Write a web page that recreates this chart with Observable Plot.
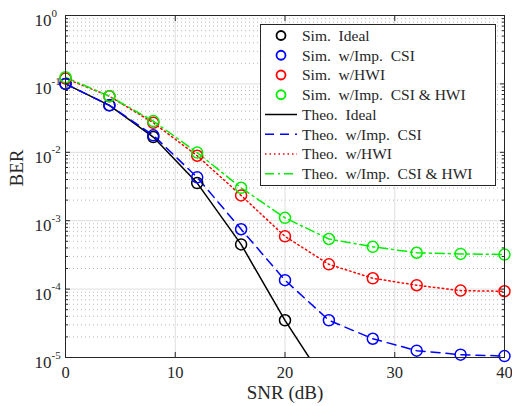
<!DOCTYPE html>
<html><head><meta charset="utf-8">
<script src="https://cdn.jsdelivr.net/npm/d3@7"></script>
<script src="https://cdn.jsdelivr.net/npm/@observablehq/plot@0.6"></script>
<style>body{margin:0;background:#fff}</style>
</head><body><div id="chart"></div>
<script>
// ---- data ----
const snr = [0, 4, 8, 12, 16, 20, 24, 28, 32, 36, 40];
const snrIdeal = [0, 4, 8, 12, 16, 20];
const simIdeal = [0.1, 0.0486, 0.0167, 0.00355, 0.00045, 3.5e-5];
const simImpCSI = [0.1, 0.0486, 0.0177, 0.0043, 0.00075, 1.35e-4, 3.5e-5, 1.88e-5, 1.26e-5, 1.1e-5, 1.05e-5];
const simHWI = [0.12, 0.066, 0.027, 0.0089, 0.00234, 5.9e-4, 2.3e-4, 1.44e-4, 1.14e-4, 9.5e-5, 9.3e-5];
const simBoth = [0.125, 0.066, 0.0286, 0.0099, 0.00303, 1.1e-3, 5.4e-4, 4.15e-4, 3.4e-4, 3.27e-4, 3.2e-4];
const snrTheoIdeal = [0, 4, 8, 12, 16, 20, 24];
const theoIdeal = [0.1, 0.0486, 0.0167, 0.00355, 0.00045, 3.5e-5, 3.6e-6];
const theoImpCSI = [0.1, 0.0486, 0.0177, 0.0043, 0.00075, 1.35e-4, 3.5e-5, 1.88e-5, 1.26e-5, 1.1e-5, 1.05e-5];
const theoHWI = [0.12, 0.066, 0.027, 0.0089, 0.00234, 5.9e-4, 2.3e-4, 1.44e-4, 1.14e-4, 9.5e-5, 9.3e-5];
const theoBoth = [0.125, 0.066, 0.0286, 0.0099, 0.00303, 1.1e-3, 5.4e-4, 4.15e-4, 3.4e-4, 3.27e-4, 3.2e-4];
const seriesNames = ["Sim.  Ideal", "Sim.  w/Imp.  CSI", "Sim.  w/HWI", "Sim.  w/Imp.  CSI & HWI",
  "Theo.  Ideal", "Theo.  w/Imp.  CSI", "Theo.  w/HWI", "Theo.  w/Imp.  CSI & HWI"];
const xTicks = [0, 10, 20, 30, 40];
const yMajor = [1e-5, 1e-4, 1e-3, 1e-2, 1e-1, 1];
const xLabel = "SNR (dB)";
const yLabel = "BER";

// ---- styles ----
const colors = ["#000000", "#0000ff", "#ff0000", "#00ee00"];
const dashes = [null, "9,6", "1.5,3", "9,4,2,4"];
const font = "'Liberation Serif', 'Times New Roman', serif";
const axisColor = "#262626";

const yMinor = [];
for (let e = -5; e < 0; e++) for (let m = 2; m <= 9; m++) yMinor.push(m * Math.pow(10, e));

const toRows = (xs, ys) => xs.map((x, i) => ({x, y: ys[i]}));
const sims = [toRows(snrIdeal, simIdeal), toRows(snr, simImpCSI), toRows(snr, simHWI), toRows(snr, simBoth)];
const theos = [toRows(snrTheoIdeal, theoIdeal), toRows(snr, theoImpCSI), toRows(snr, theoHWI), toRows(snr, theoBoth)];

const chart = Plot.plot({
  width: 512, height: 406,
  marginLeft: 65, marginRight: 8, marginTop: 15, marginBottom: 49,
  style: {fontFamily: font, background: "white", color: axisColor},
  x: {domain: [0, 40]},
  y: {type: "log", domain: [1e-5, 1]},
  marks: [
    Plot.ruleY(yMinor, {stroke: "#b8b8b8", strokeDasharray: "1,3"}),
    Plot.ruleY(yMajor.slice(1, -1), {stroke: "#dedede"}),
    Plot.ruleX(xTicks.slice(1, -1), {stroke: "#dedede"}),
    ...theos.map((d, i) => Plot.line(d, {x: "x", y: "y", stroke: colors[i], strokeWidth: 1.5,
      strokeDasharray: dashes[i], clip: true})),
    ...sims.map((d, i) => Plot.dot(d, {x: "x", y: "y", r: 5.5, stroke: colors[i], strokeWidth: 1.5})),
    Plot.frame({stroke: axisColor}),
    Plot.axisX(xTicks, {anchor: "bottom", tickSize: 5, dy: -5, fill: "none"}),
    Plot.axisX(xTicks, {anchor: "top", tickSize: 5, dy: 5, fill: "none"}),
    Plot.axisY(yMajor, {anchor: "left", tickSize: 5, dx: 5, fill: "none"}),
    Plot.axisY(yMajor, {anchor: "right", tickSize: 5, dx: -5, fill: "none"}),
    Plot.axisY(yMinor, {anchor: "left", tickSize: 3, dx: 3, fill: "none"}),
    Plot.axisY(yMinor, {anchor: "right", tickSize: 3, dx: -3, fill: "none"}),
    Plot.axisX(xTicks, {anchor: "bottom", tickSize: 0, tickPadding: 9, fontSize: 16.5, label: null}),
    Plot.text(yMajor, {y: d => d, frameAnchor: "left", text: () => "10", textAnchor: "end",
      dx: -14, dy: 5, fontSize: 17, fill: axisColor}),
    Plot.text(yMajor, {y: d => d, frameAnchor: "left", text: d => String(Math.round(Math.log10(d))),
      textAnchor: "start", dx: -14, dy: -2.5, fontSize: 11, fill: axisColor}),
    Plot.text([xLabel], {frameAnchor: "bottom", dy: 41, fontSize: 19, fill: axisColor}),
    Plot.text([yLabel], {frameAnchor: "left", dx: -49, rotate: -90, fontSize: 19, fill: axisColor})
  ]
});
document.getElementById("chart").appendChild(chart);

// ---- legend ----
const svg = d3.select(chart);
const lg = svg.append("g").attr("font-family", font).attr("font-size", 15.5)
  .attr("fill", axisColor).attr("text-anchor", "start");
lg.append("rect").attr("x", 260.5).attr("y", 24.5).attr("width", 235).attr("height", 161)
  .attr("fill", "white").attr("stroke", axisColor);
seriesNames.forEach((name, i) => {
  const yy = 35.5 + i * 19.75;
  const k = i % 4;
  if (i < 4) {
    lg.append("circle").attr("cx", 281).attr("cy", yy).attr("r", 4.5)
      .attr("fill", "none").attr("stroke", colors[k]).attr("stroke-width", 1.8);
  } else {
    lg.append("line").attr("x1", 265).attr("x2", 297).attr("y1", yy).attr("y2", yy)
      .attr("stroke", colors[k]).attr("stroke-width", 1.5)
      .attr("stroke-dasharray", dashes[k]);
  }
  lg.append("text").attr("x", 302).attr("y", yy).attr("dy", "0.35em")
    .attr("text-anchor", "start").style("white-space", "pre").text(name);
});
</script>
</body></html>
